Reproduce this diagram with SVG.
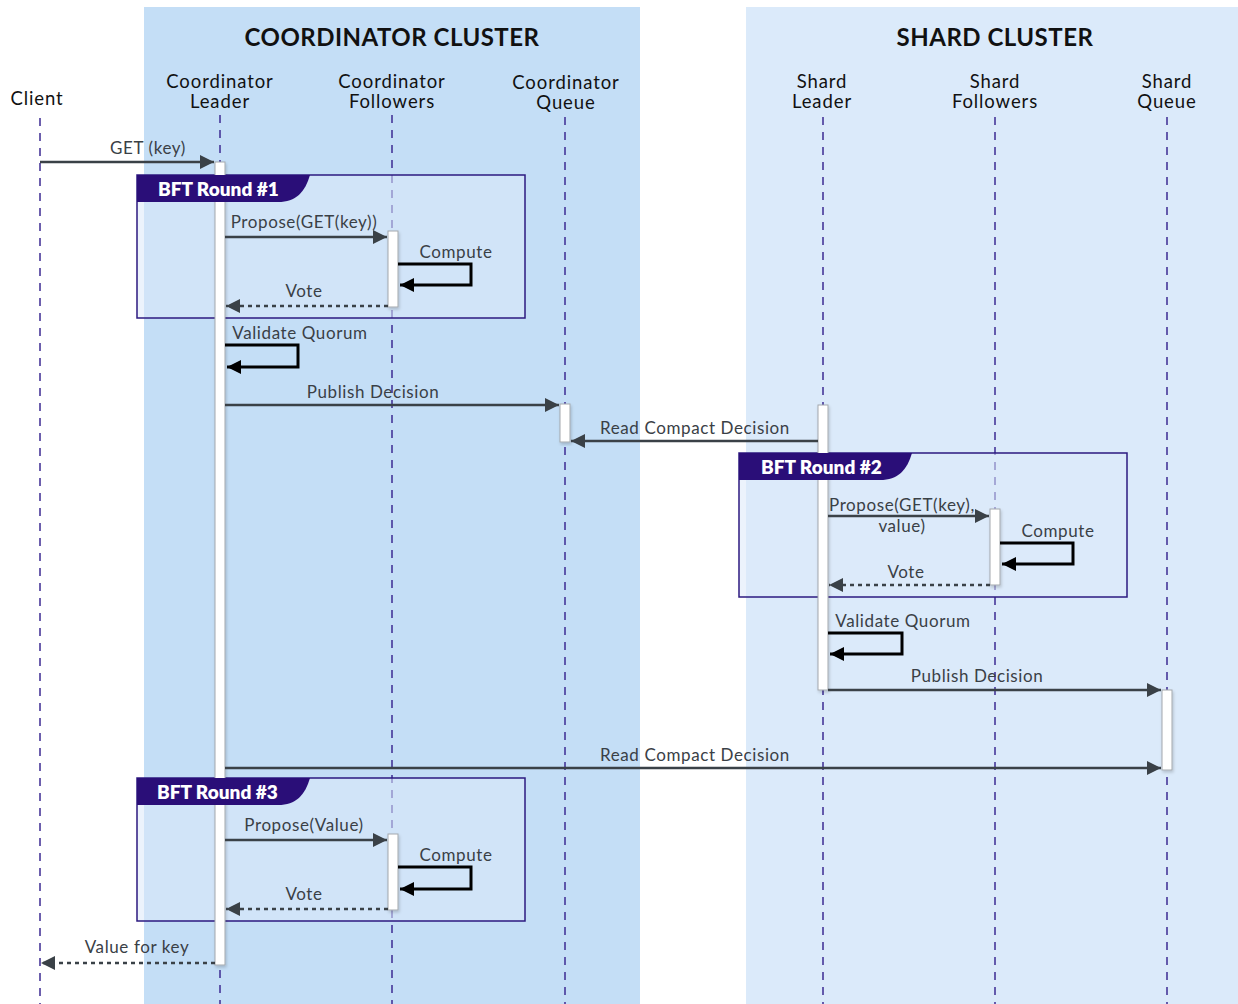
<svg xmlns="http://www.w3.org/2000/svg" width="1238" height="1004" viewBox="0 0 1238 1004">
  <style>
    .title { font-family: Lato, "Liberation Sans", sans-serif; font-weight: 700; font-size: 24px; fill: #111; text-anchor: middle; letter-spacing: 0.5px; }
    .actor { font-family: Lato, "Liberation Sans", sans-serif; font-size: 18.5px; fill: #111; text-anchor: middle; letter-spacing: 0.9px; }
    .msg { font-family: Lato, "Liberation Sans", sans-serif; font-size: 17px; fill: #3a4046; text-anchor: middle; letter-spacing: 0.6px; }
    .tab { font-family: Lato, "Liberation Sans", sans-serif; font-weight: 800; font-size: 19px; fill: #fff; }
    .life { stroke: #3d2b93; stroke-width: 1.5; stroke-dasharray: 8 7; fill: none; }
    .act { fill: #fff; stroke: #a3a8ad; stroke-width: 1; filter: url(#shadow); }
    .frame { fill: #dceafa; fill-opacity: 0.55; stroke: #2c1a80; stroke-width: 1.5; }
    .tabbg { fill: #2a0e78; }
    .call { stroke: #3a4147; stroke-width: 2.5; fill: none; marker-end: url(#arrow); }
    .reply { stroke: #3a4147; stroke-width: 2.5; stroke-dasharray: 4 4; fill: none; marker-end: url(#arrow); }
    .self { stroke: #000; stroke-width: 3; fill: none; marker-end: url(#arrowBlack); }
  </style>
  <defs>
    <marker id="arrow" markerUnits="userSpaceOnUse" markerWidth="16" markerHeight="14" refX="14" refY="7" orient="auto">
      <path d="M0,0 L14,7 L0,14 z" fill="#3a4147"/>
    </marker>
    <marker id="arrowBlack" markerUnits="userSpaceOnUse" markerWidth="16" markerHeight="14" refX="14" refY="7" orient="auto">
      <path d="M0,0 L14,7 L0,14 z" fill="#000"/>
    </marker>
    <filter id="shadow" x="-50%" y="-10%" width="200%" height="120%">
      <feDropShadow dx="1" dy="2" stdDeviation="1.5" flood-color="#000" flood-opacity="0.18"/>
    </filter>
  </defs>

  <rect width="1238" height="1004" fill="#fff"/>

  <!-- cluster backgrounds -->
  <g id="coordinator-cluster">
    <rect x="144" y="7" width="496" height="997" fill="#c4def6"/>
    <text class="title" x="392" y="46">COORDINATOR CLUSTER</text>
  </g>
  <g id="shard-cluster">
    <rect x="746" y="7" width="492" height="997" fill="#dbeafa"/>
    <text class="title" x="995" y="46">SHARD CLUSTER</text>
  </g>

  <!-- participants with lifelines -->
  <g id="client">
    <text class="actor" x="37" y="105">Client</text>
    <line class="life" x1="40" y1="118" x2="40" y2="1004"/>
  </g>
  <g id="coordinator-leader">
    <text class="actor" x="220" y="88">Coordinator</text>
    <text class="actor" x="220" y="108">Leader</text>
    <line class="life" x1="220" y1="115" x2="220" y2="1004"/>
  </g>
  <g id="coordinator-followers">
    <text class="actor" x="392" y="88">Coordinator</text>
    <text class="actor" x="392" y="108">Followers</text>
    <line class="life" x1="392" y1="115" x2="392" y2="1004"/>
  </g>
  <g id="coordinator-queue">
    <text class="actor" x="566" y="89">Coordinator</text>
    <text class="actor" x="566" y="109">Queue</text>
    <line class="life" x1="565" y1="117" x2="565" y2="1004"/>
  </g>
  <g id="shard-leader">
    <text class="actor" x="822" y="88">Shard</text>
    <text class="actor" x="822" y="108">Leader</text>
    <line class="life" x1="823" y1="117" x2="823" y2="1004"/>
  </g>
  <g id="shard-followers">
    <text class="actor" x="995" y="88">Shard</text>
    <text class="actor" x="995" y="108">Followers</text>
    <line class="life" x1="995" y1="117" x2="995" y2="1004"/>
  </g>
  <g id="shard-queue">
    <text class="actor" x="1167" y="88">Shard</text>
    <text class="actor" x="1167" y="108">Queue</text>
    <line class="life" x1="1167" y1="117" x2="1167" y2="1004"/>
  </g>

  <!-- BFT round frames (body) -->
  <g id="bft-round-1">
    <rect class="frame" x="137" y="175" width="388" height="143"/>
  </g>
  <g id="bft-round-2">
    <rect class="frame" x="739" y="453" width="388" height="144"/>
  </g>
  <g id="bft-round-3">
    <rect class="frame" x="137" y="778" width="388" height="143"/>
  </g>

  <!-- activation bars -->
  <g id="activations">
    <rect class="act" x="215" y="162" width="10" height="803"/>
    <rect class="act" x="388" y="231" width="10" height="76"/>
    <rect class="act" x="388" y="834" width="10" height="76"/>
    <rect class="act" x="560" y="404" width="10" height="38"/>
    <rect class="act" x="818" y="405" width="10" height="285"/>
    <rect class="act" x="990" y="509" width="10" height="76"/>
    <rect class="act" x="1162" y="690" width="10" height="80"/>
  </g>

  <!-- BFT round title tabs, drawn above the bars -->
  <g id="bft-round-1-tab">
    <path class="tabbg" d="M137,175 H310 C305,192 296,202 278,202 H137 Z"/>
    <text class="tab" x="158" y="196">BFT Round #1</text>
  </g>
  <g id="bft-round-2-tab">
    <path class="tabbg" d="M739,453 H912 C907,470 898,480 880,480 H739 Z"/>
    <text class="tab" x="761" y="474">BFT Round #2</text>
  </g>
  <g id="bft-round-3-tab">
    <path class="tabbg" d="M137,778 H310 C305,795 296,805 278,805 H137 Z"/>
    <text class="tab" x="157" y="799">BFT Round #3</text>
  </g>

  <!-- messages -->
  <g id="connectors">
    <line class="call" x1="40" y1="162" x2="214" y2="162"/>
    <text class="msg" x="148" y="154">GET (key)</text>

    <line class="call" x1="225" y1="237" x2="387" y2="237"/>
    <text class="msg" x="304" y="228">Propose(GET(key))</text>

    <path class="self" d="M398,264 H471 V285 H400"/>
    <text class="msg" x="456" y="258">Compute</text>

    <line class="reply" x1="388" y1="306" x2="226" y2="306"/>
    <text class="msg" x="304" y="297">Vote</text>

    <path class="self" d="M225,345 H298 V367 H227"/>
    <text class="msg" x="300" y="339">Validate Quorum</text>

    <line class="call" x1="225" y1="405" x2="559" y2="405"/>
    <text class="msg" x="373" y="398">Publish Decision</text>

    <line class="call" x1="818" y1="441" x2="571" y2="441"/>
    <text class="msg" x="695" y="434">Read Compact Decision</text>

    <line class="call" x1="828" y1="516" x2="989" y2="516"/>
    <text class="msg" x="902" y="511">Propose(GET(key),</text>
    <text class="msg" x="902" y="532">value)</text>

    <path class="self" d="M1000,543 H1073 V564 H1002"/>
    <text class="msg" x="1058" y="537">Compute</text>

    <line class="reply" x1="990" y1="585" x2="829" y2="585"/>
    <text class="msg" x="906" y="578">Vote</text>

    <path class="self" d="M828,633 H902 V654 H830"/>
    <text class="msg" x="903" y="627">Validate Quorum</text>

    <line class="call" x1="828" y1="690" x2="1161" y2="690"/>
    <text class="msg" x="977" y="682">Publish Decision</text>

    <line class="call" x1="225" y1="768" x2="1161" y2="768"/>
    <text class="msg" x="695" y="761">Read Compact Decision</text>

    <line class="call" x1="225" y1="840" x2="387" y2="840"/>
    <text class="msg" x="304" y="831">Propose(Value)</text>

    <path class="self" d="M398,867 H471 V889 H400"/>
    <text class="msg" x="456" y="861">Compute</text>

    <line class="reply" x1="388" y1="909" x2="226" y2="909"/>
    <text class="msg" x="304" y="900">Vote</text>

    <line class="reply" x1="215" y1="963" x2="41" y2="963"/>
    <text class="msg" x="137" y="953">Value for key</text>
  </g>
</svg>
